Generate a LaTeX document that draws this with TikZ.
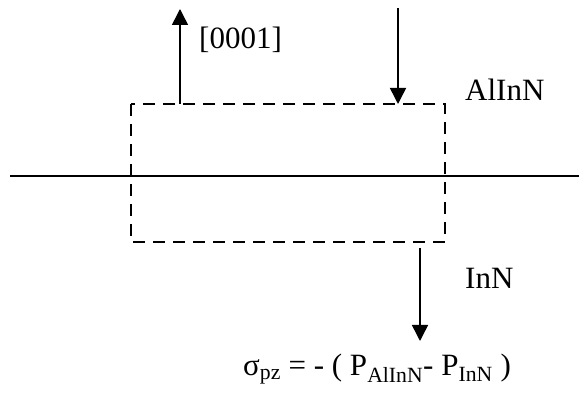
\documentclass[tikz,border=0pt]{standalone}
\usepackage{fontspec}
\setmainfont{Liberation Serif}
\usetikzlibrary{arrows.meta, positioning}

\tikzset{
  lbl/.style={font=\fontsize{31}{36}\selectfont, inner sep=0pt},
  pol/.style={line width=1.5pt, -{Triangle[length=16pt,width=16pt]}},
  layer/.style={line width=1.5pt, dash pattern=on 12pt off 8pt}
}

\begin{document}
\begin{tikzpicture}[x=1pt, y=-1pt]
      \useasboundingbox (0,0) rectangle (579,395);
      % Interface
      \coordinate (ifl) at (10,176);
      \coordinate (ifr) at (579,176);
      \draw[line width=1.2pt] (ifl) -- (ifr);
      % Dashed box round the interface
      \coordinate (boxtl) at (131,104);
      \coordinate (boxbr) at (445,242);
      \draw[layer] (boxtl) rectangle (boxbr);

      % [0001] direction
      \coordinate (upfoot) at (180,104);
      \coordinate (uptip) at (180,9);
      \draw[pol] (upfoot) -- (uptip);
      \node[lbl, anchor=west] (dir) at (199,40) {[0001]};

      % Polarisation arrows
      \coordinate (dntop) at (398,8);
      \coordinate (dnfoot) at (398,104);
      \draw[pol] (dntop) -- (dnfoot);
      \coordinate (lotop) at (420,248);
      \coordinate (lotip) at (420,341);
      \draw[pol] (lotop) -- (lotip);

      % Layers
      \node[lbl, anchor=west] (alinn) at (465,90) {AlInN};
      \node[lbl, anchor=west] (inn) at (465,278) {InN};

      % Sheet charge
      \node[lbl, anchor=base west] (sigma) at (243,376)
        {σ\textsubscript{pz} = - ( P\textsubscript{AlInN}- P\textsubscript{InN} )};
\end{tikzpicture}
\end{document}
